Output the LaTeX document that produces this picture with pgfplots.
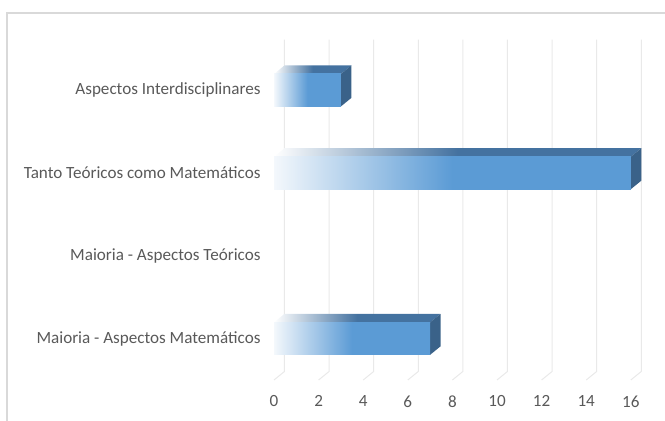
\documentclass[border=0pt]{standalone}
\usepackage{pgfplots}
\pgfplotsset{compat=1.18}
\usepackage{fontspec}
\setmainfont{Carlito}
\definecolor{frontblue}{RGB}{91,155,213}
\definecolor{topblue}{RGB}{68,114,160}
\definecolor{sideblue}{RGB}{58,98,137}
\definecolor{paleblue}{RGB}{244,248,252}
\definecolor{gridgray}{RGB}{233,233,233}
\definecolor{framegray}{RGB}{217,217,217}
\definecolor{txtgray}{RGB}{89,89,89}
\begin{document}
\begin{tikzpicture}
\path[use as bounding box] (0bp,0bp) rectangle (665bp,421bp);
\draw[framegray, line width=1.2bp] (7bp,0bp) -- (7bp,408bp) -- (666bp,408bp);
\begin{axis}[
  at={(274bp,41bp)}, anchor=south west,
  scale only axis, width=367.95bp, height=340.3bp,
  xmin=0, xmax=16.5, ymin=-0.5, ymax=3.61,
  clip=false,
  axis x line=bottom, axis y line=left,
  axis line style={draw=none,-},
  major tick length=0pt,
  xtick={0,2,...,16},
  ytick={0,1,2,3},
  yticklabels={Maioria - Aspectos Matemáticos, Maioria - Aspectos Teóricos, Tanto Teóricos como Matemáticos, Aspectos Interdisciplinares},
  tick label style={font=\fontsize{17.1bp}{20bp}\selectfont, text=txtgray},
  /pgf/number format/assume math mode=true,
  xticklabel style={yshift=-12bp},
  yticklabel style={xshift=-10bp},
]
% grid lines (back plane + floor)
\addplot[gridgray, line width=1bp, unbounded coords=jump, forget plot] coordinates {
 (0,-0.5) (0.47,-0.397) (0.47,3.61) (1,nan)
 (2,-0.5) (2.47,-0.397) (2.47,3.61) (3,nan)
 (4,-0.5) (4.47,-0.397) (4.47,3.61) (5,nan)
 (6,-0.5) (6.47,-0.397) (6.47,3.61) (7,nan)
 (8,-0.5) (8.47,-0.397) (8.47,3.61) (9,nan)
 (10,-0.5) (10.47,-0.397) (10.47,3.61) (11,nan)
 (12,-0.5) (12.47,-0.397) (12.47,3.61) (13,nan)
 (14,-0.5) (14.47,-0.397) (14.47,3.61) (15,nan)
 (16,-0.5) (16.47,-0.397) (16.47,3.61)
};
% Maioria - Aspectos Matematicos = 7
\addplot[draw=none, left color=white, right color=topblue, middle color=topblue] coordinates {(0,0.196) (7,0.196) (7.47,0.299) (0.47,0.299)};
\addplot[draw=none, fill=sideblue] coordinates {(7,-0.196) (7.47,-0.093) (7.47,0.299) (7,0.196)};
\addplot[xbar, bar width=32.5bp, draw=none, left color=paleblue, right color=frontblue, middle color=frontblue] coordinates {(7,0)};
% Maioria - Aspectos Teoricos = 0 (no bar)
% Tanto Teoricos como Matematicos = 16
\addplot[draw=none, left color=white, right color=topblue, middle color=topblue] coordinates {(0,2.196) (16,2.196) (16.47,2.299) (0.47,2.299)};
\addplot[draw=none, fill=sideblue] coordinates {(16,1.804) (16.47,1.907) (16.47,2.299) (16,2.196)};
\addplot[xbar, bar width=32.5bp, draw=none, left color=paleblue, right color=frontblue, middle color=frontblue] coordinates {(16,2)};
% Aspectos Interdisciplinares = 3
\addplot[draw=none, left color=white, right color=topblue, middle color=topblue] coordinates {(0,3.196) (3,3.196) (3.47,3.299) (0.47,3.299)};
\addplot[draw=none, fill=sideblue] coordinates {(3,2.804) (3.47,2.907) (3.47,3.299) (3,3.196)};
\addplot[xbar, bar width=32.5bp, draw=none, left color=paleblue, right color=frontblue, middle color=frontblue] coordinates {(3,3)};
\end{axis}
\end{tikzpicture}
\end{document}
